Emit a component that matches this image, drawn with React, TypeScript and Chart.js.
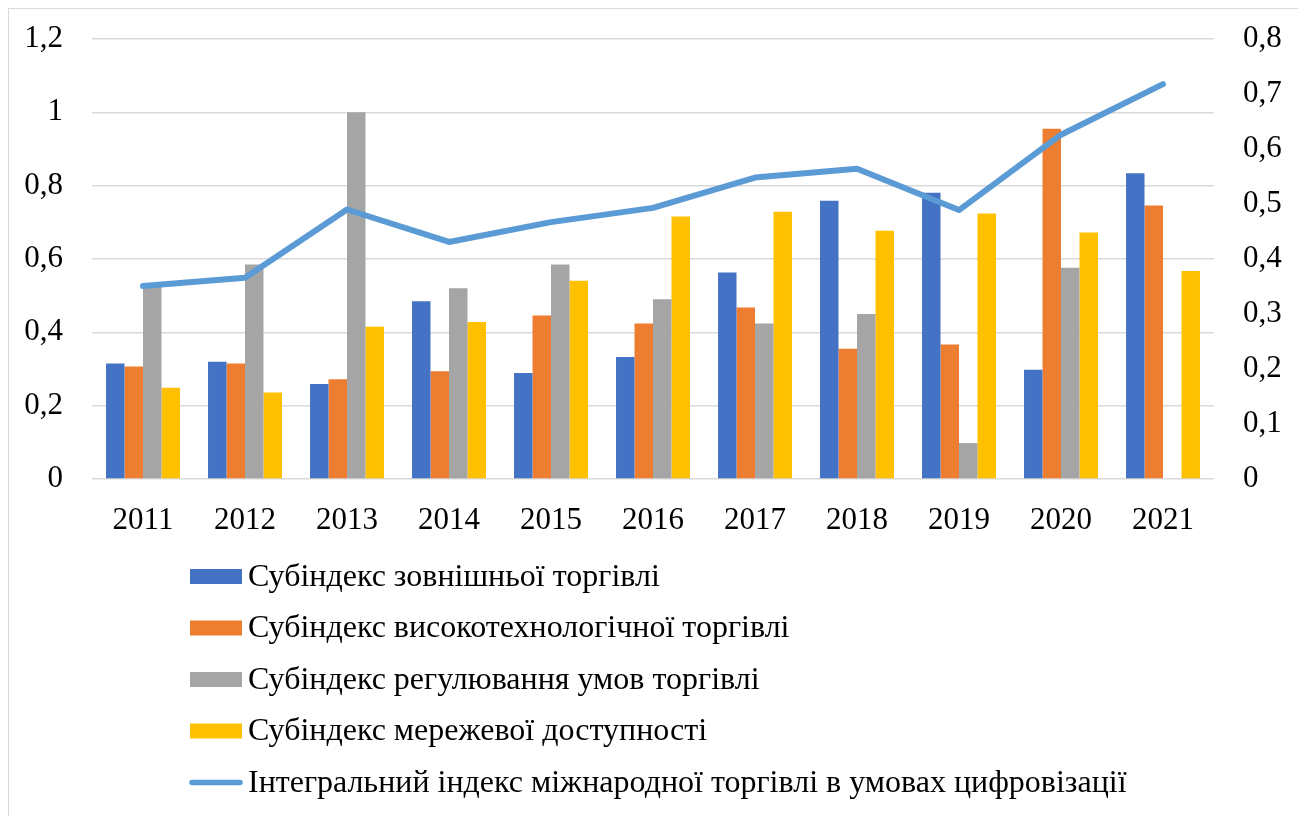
import React, { useEffect, useRef } from "react";
import { Chart, registerables } from "chart.js";

Chart.register(...registerables);

const categories = ["2011", "2012", "2013", "2014", "2015", "2016", "2017", "2018", "2019", "2020", "2021"];
const foreignTrade = [0.315, 0.32, 0.259, 0.485, 0.289, 0.333, 0.563, 0.759, 0.781, 0.298, 0.834];
const highTechTrade = [0.307, 0.315, 0.272, 0.294, 0.446, 0.424, 0.468, 0.355, 0.367, 0.955, 0.746];
const tradeRegulation = [0.53, 0.585, 1.0, 0.52, 0.585, 0.49, 0.424, 0.45, 0.098, 0.576, null];
const networkAccess = [0.249, 0.236, 0.415, 0.428, 0.541, 0.716, 0.729, 0.677, 0.724, 0.672, 0.567];
const integralIndex = [0.351, 0.366, 0.49, 0.431, 0.467, 0.493, 0.548, 0.564, 0.489, 0.626, 0.718];

const labels = [
  "Субіндекс зовнішньої торгівлі",
  "Субіндекс високотехнологічної торгівлі",
  "Субіндекс регулювання умов торгівлі",
  "Субіндекс мережевої доступності",
  "Інтегральний індекс міжнародної торгівлі в умовах цифровізації",
];

const colors = ["#4472C4", "#ED7D31", "#A5A5A5", "#FFC000", "#5B9BD5"];

const FONT = "'Liberation Serif', 'Times New Roman', serif";

const fmt = (v: number) => {
  const r = Math.round(v * 10) / 10;
  return String(r).replace(".", ",");
};

const legendPlugin = {
  id: "customLegend",
  afterDraw(chart: any) {
    const ctx = chart.ctx;
    const area = chart.chartArea;
    const datasets = chart.data.datasets;
    ctx.save();
    ctx.font = `32px ${FONT}`;
    ctx.textBaseline = "middle";
    ctx.textAlign = "left";
    const swL = 181;
    const swW = 52;
    const textX = 239;
    datasets.forEach((ds: any, i: number) => {
      const y = area.bottom + 97.5 + i * 51.5;
      if (ds.type === "line") {
        ctx.strokeStyle = ds.borderColor;
        ctx.lineWidth = 5.5;
        ctx.lineCap = "round";
        ctx.beginPath();
        ctx.moveTo(swL + 2, y);
        ctx.lineTo(swL + swW - 2, y);
        ctx.stroke();
      } else {
        ctx.fillStyle = ds.backgroundColor;
        ctx.fillRect(swL, y - 7.5, swW, 15);
      }
      ctx.fillStyle = "#000";
      ctx.fillText(ds.label, textX, y + 1);
    });
    ctx.restore();
  },
};

export default function App() {
  const canvasRef = useRef<HTMLCanvasElement | null>(null);

  useEffect(() => {
    const canvas = canvasRef.current;
    if (!canvas) return;
    const barSeries = [foreignTrade, highTechTrade, tradeRegulation, networkAccess];
    const datasets: any[] = barSeries.map((data, i) => ({
      type: "bar",
      label: labels[i],
      data,
      backgroundColor: colors[i],
      borderWidth: 0,
      yAxisID: "y",
      categoryPercentage: 0.725,
      barPercentage: 1,
      order: 1,
    }));
    datasets.push({
      type: "line",
      label: labels[4],
      data: integralIndex,
      borderColor: colors[4],
      backgroundColor: colors[4],
      borderWidth: 6,
      pointRadius: 0,
      borderCapStyle: "round",
      borderJoinStyle: "round",
      tension: 0,
      yAxisID: "y1",
      order: 0,
    });

    const fixVertical = (width: number) => (scale: any) => {
      scale.width = width;
      scale.paddingTop = 18;
      scale.paddingBottom = 18;
    };

    const chart = new Chart(canvas, {
      type: "bar",
      data: { labels: categories, datasets },
      options: {
        responsive: false,
        animation: false,
        layout: { padding: { top: 30, bottom: 270, left: 0, right: 0 } },
        plugins: {
          legend: { display: false },
          tooltip: { enabled: false },
        },
        scales: {
          x: {
            grid: { display: false, drawTicks: false },
            border: { display: false },
            ticks: { font: { family: FONT, size: 31 }, color: "#000", padding: 23 },
            afterFit(scale: any) {
              scale.height = 60;
            },
          },
          y: {
            position: "left",
            min: 0,
            max: 1.2,
            grid: { color: "#D9D9D9", lineWidth: 1.5, drawTicks: false },
            border: { display: false },
            ticks: {
              stepSize: 0.2,
              font: { family: FONT, size: 31 },
              color: "#000",
              padding: 29,
              callback: (v: any) => fmt(Number(v)),
            },
            afterFit: fixVertical(83),
          },
          y1: {
            position: "right",
            min: 0,
            max: 0.8,
            grid: { display: false, drawTicks: false },
            border: { display: false },
            ticks: {
              stepSize: 0.1,
              font: { family: FONT, size: 31 },
              color: "#000",
              padding: 29,
              callback: (v: any) => fmt(Number(v)),
            },
            afterFit: fixVertical(85),
          },
        },
      },
      plugins: [legendPlugin],
    } as any);
    return () => chart.destroy();
  }, []);

  return (
    <div style={{ width: 1290, height: 815, border: "1px solid #D9D9D9", background: "#fff" }}>
      <canvas ref={canvasRef} width={1290} height={800} style={{ display: "block" }} />
    </div>
  );
}
